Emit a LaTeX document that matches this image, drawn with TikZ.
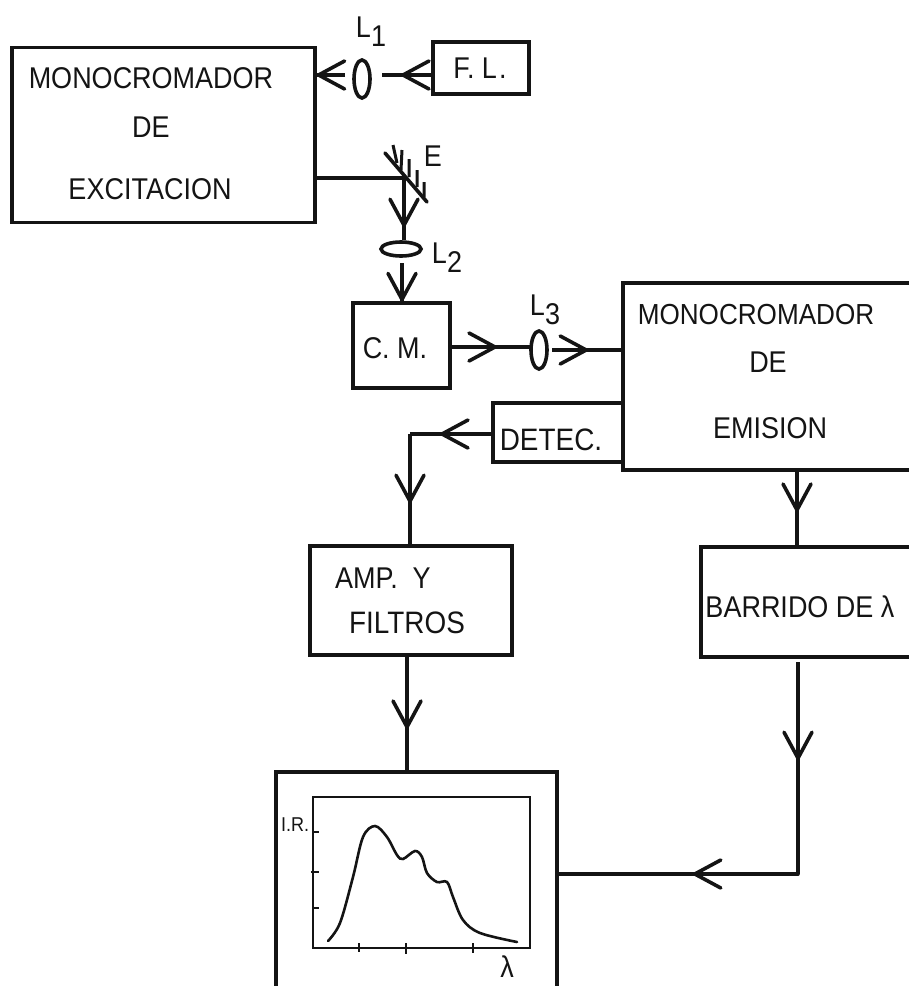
\documentclass[tikz,border=0pt]{standalone}
\usepackage{fontspec}
\setmainfont{Liberation Sans}[FakeStretch=0.9]
\usetikzlibrary{arrows.meta,decorations.markings,shapes.geometric}
\definecolor{ink}{HTML}{141414}
\tikzset{
  box/.style={draw=ink,line width=3.6pt,rectangle,inner sep=0pt,fill=none},
  thinbox/.style={draw=ink,line width=2.6pt,rectangle,inner sep=0pt},
  lens/.style={draw=ink,line width=3.6pt,ellipse,inner sep=0pt},
  lbl/.style={text=ink,inner sep=0pt,font=\fontsize{30}{30}\selectfont},
  conn/.style={draw=ink,line width=3.6pt},
  barb/.style={postaction={decorate},decoration={markings,
     mark=at position #1 with {\arrow[line width=3.6pt]{Straight Barb[length=26pt,width=28pt,round]}}}}
}
\begin{document}
\begin{tikzpicture}[x=1pt,y=-1pt]
\useasboundingbox (0,0) rectangle (909,986);
\clip (0,0) rectangle (909,986);
% boxes
\node[box,minimum width=303pt,minimum height=175pt] (mex) at (163.5,135) {};
\node[box,minimum width=96pt,minimum height=52pt] (fl) at (481,68) {};
\node[box,minimum width=97pt,minimum height=85pt] (cm) at (401.5,345.5) {};
\node[box,minimum width=320pt,minimum height=187pt] (mem) at (783,376.5) {};
\node[box,minimum width=130pt,minimum height=59pt] (det) at (558,432.5) {};
\node[box,minimum width=202pt,minimum height=109pt] (amp) at (411,600.5) {};
\node[box,minimum width=240pt,minimum height=110pt] (bar) at (821,602) {};
\node[box,minimum width=281pt,minimum height=260pt] (dis) at (416.5,902) {};
\node[thinbox,minimum width=217pt,minimum height=151pt] (plot) at (421.5,872.5) {};
% lenses
\node[lens,minimum width=16pt,minimum height=38pt] (l1) at (362,79) {};
\node[lens,minimum width=40pt,minimum height=14pt] (l2) at (401,249) {};
\node[lens,minimum width=16pt,minimum height=38pt] (l3) at (539,350) {};
% mirror
\coordinate (mA) at (385,153);
\coordinate (mB) at (427,202);
\coordinate (mC) at (404,178);
\draw[conn,line cap=round] (mA) -- (mB);
\draw[conn,line width=3pt] (393,145) -- (397,163) (402,150) -- (401,170) (409,159) -- (409,177) (417,170) -- (417,187) (424,182) -- (424,197);
% connector anchors
\coordinate (a1) at (345,75);
\coordinate (a2) at (382,75);
\coordinate (a3) at (402,263);
\coordinate (a4) at (552,350);
\coordinate (a5) at (531,347);
\coordinate (bend1) at (410,434);
\coordinate (bend2) at (798,874);
\coordinate (a6) at (797,500);
\coordinate (a7) at (407,700);
\coordinate (a8) at (798,662);
% connectors
\draw[conn,barb=1.0] (a1) -- (mex.east |- a1);
\draw[conn,barb=30pt] (fl.west |- a2) -- (a2);
\draw[conn] (mex.east |- mC) -- (mC);
\draw[conn,barb=49pt] (mC) -- (l2.north -| mC);
\draw[conn,barb=1.0] (a3) -- (cm.north -| a3);
\draw[conn,barb=45pt] (cm.east |- a5) -- (a5);
\draw[conn,barb=36pt] (a4) -- (mem.west |- a4);
\draw[conn,barb=51pt] (det.west |- bend1) -- (bend1);
\draw[conn,barb=69pt] (bend1) -- (amp.north -| bend1);
\draw[conn,barb=40pt] (mem.south -| a6) -- (bar.north -| a6);
\draw[conn,barb=72pt] (amp.south -| a7) -- (dis.north -| a7);
\draw[conn,barb=98pt] (a8) -- (bend2);
\draw[conn,barb=105pt,line cap=round] (bend2) -- (dis.east |- bend2);
% plot
\draw[ink,line width=2.6pt,line cap=round] plot[smooth,tension=0.55] coordinates {(328,941) (340,923) (353,877) (363,837) (375,826) (387,837) (397,855) (403,859) (415,851) (422,857) (427,873) (437,882) (447,882) (453,897) (463,920) (480,933) (517,942)};
\draw[ink,line width=2.4pt] (313,832) -- (319,832) (311,872) -- (319,872) (313,908) -- (319,908);
\draw[ink,line width=2.4pt] (359,943) -- (359,952) (406,943) -- (406,954) (473,943) -- (473,953);
% labels
\node[lbl] (t1) at (151,78) {MONOCROMADOR};
\node[lbl] (t2) at (151,127) {DE};
\node[lbl] (t3) at (150,189) {EXCITACION};
\node[lbl] (t4) at (480,68) {F.\ L\kern2pt.};
\node[lbl] (t5) at (371,32) {L\raisebox{-9pt}{1}};
\node[lbl] (t6) at (447,258) {L\raisebox{-9pt}{2}};
\node[lbl] (t7) at (545,310) {L\raisebox{-9pt}{3}};
\node[lbl] (t8) at (433,156) {E};
\node[lbl] (t9) at (395,348) {C. M.};
\node[lbl,font=\fontsize{31}{31}\selectfont] (t10) at (551,440) {DETEC.};
\node[lbl,font=\fontsize{29}{29}\selectfont] (t11) at (756,315) {MONOCROMADOR};
\node[lbl] (t12) at (768,362) {DE};
\node[lbl] (t13) at (770,428) {EMISION};
\node[lbl] (t14) at (383,578) {AMP.\ \ Y};
\node[lbl,font=\fontsize{31}{31}\selectfont] (t15) at (407,623) {FILTROS};
\node[lbl] (t16) at (800,607) {BARRIDO DE λ};
\node[lbl,font=\fontsize{20}{20}\selectfont] (t17) at (295,825) {I.R.};
\node[lbl] (t18) at (507,967) {λ};
\end{tikzpicture}
\end{document}
